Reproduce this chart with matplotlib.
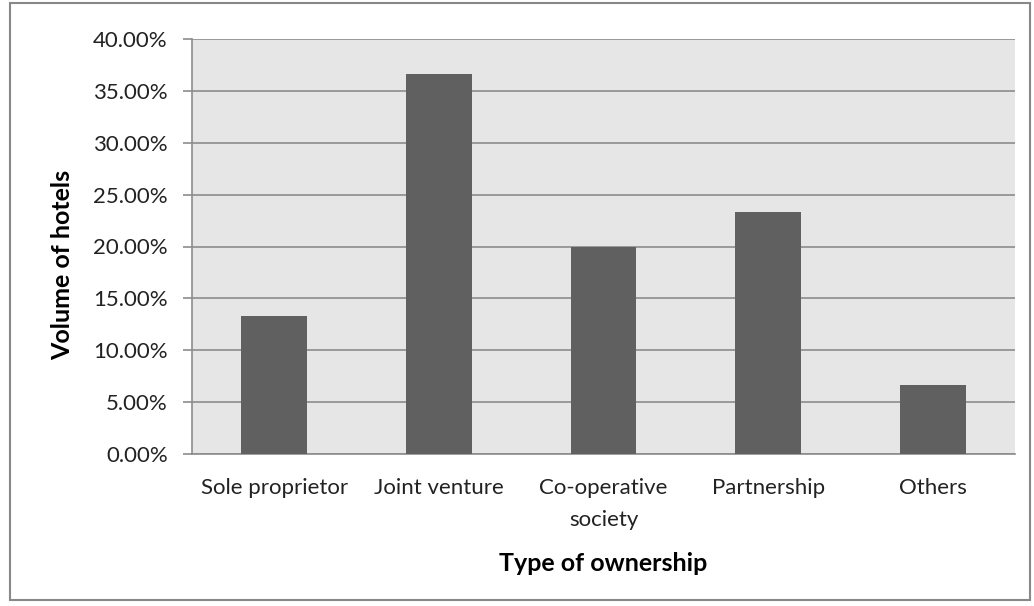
import matplotlib.pyplot as plt
from matplotlib.patches import Rectangle
from matplotlib.ticker import FuncFormatter

# ownership types and their share of hotels (%)
categories = ['Sole proprietor', 'Joint venture', 'Co-operative\nsociety', 'Partnership', 'Others']
shares = [13.33, 36.67, 20.00, 23.33, 6.67]
y_ticks = [0, 5, 10, 15, 20, 25, 30, 35, 40]

plt.rcParams['font.family'] = ['Lato', 'DejaVu Sans']

fig = plt.figure(figsize=(10.34, 6.06), dpi=100)
fig.patches.append(Rectangle((10 / 1034, 6 / 606), 1020 / 1034, 597 / 606,
                             transform=fig.transFigure, fill=False,
                             edgecolor='#888888', linewidth=1.5))

ax = fig.add_axes([192 / 1034, 1 - 454 / 606, 823 / 1034, 415 / 606])
ax.set_facecolor('#e6e6e6')

x = range(len(categories))
ax.bar(x, shares, width=0.4, color='#606060', zorder=3)

ax.set_xlim(-0.5, len(categories) - 0.5)
ax.set_ylim(0, 40)
ax.set_yticks(y_ticks)
ax.yaxis.set_major_formatter(FuncFormatter(lambda v, p: f'{v:.2f}%'))
ax.set_xticks(list(x))
ax.set_xticklabels(categories, linespacing=1.75)

ax.grid(axis='y', color='#8c8c8c', linewidth=1.2, zorder=0)
ax.set_axisbelow(True)

for side in ['top', 'right']:
    ax.spines[side].set_visible(False)
ax.spines['left'].set_color('#8c8c8c')
ax.spines['bottom'].set_color('#8c8c8c')
ax.spines['left'].set_linewidth(1.2)
ax.spines['bottom'].set_linewidth(1.2)

ax.tick_params(axis='y', length=6.5, color='#8c8c8c', width=1.2, labelsize=16, labelcolor='#222222', pad=11)
ax.tick_params(axis='x', length=0, labelsize=16, labelcolor='#222222', pad=17)

ax.set_ylabel('Volume of hotels', fontsize=18, fontweight='bold')
ax.yaxis.set_label_coords(-0.143, 0.455)
ax.set_xlabel('Type of ownership', fontsize=18, fontweight='bold')
ax.xaxis.set_label_coords(0.5, -0.235)

fig.savefig('out.png', dpi=100)
